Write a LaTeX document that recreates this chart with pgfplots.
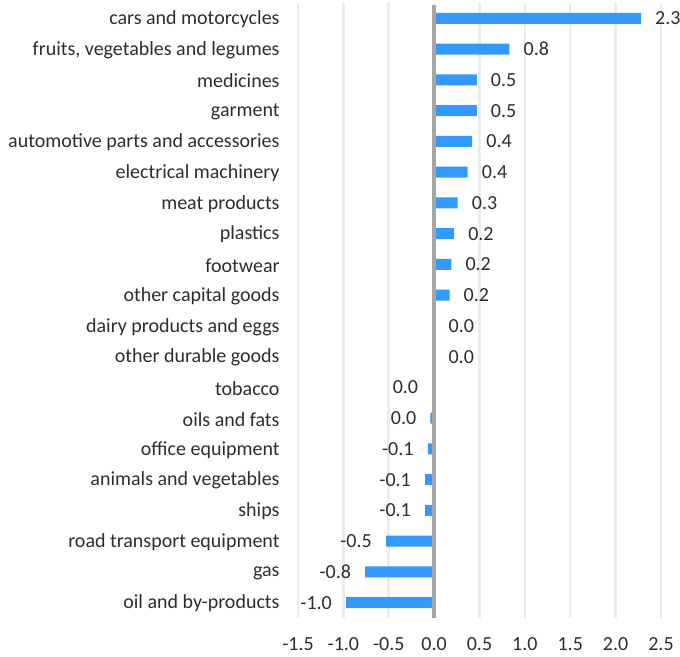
\documentclass[border=0pt]{standalone}
\usepackage{pgfplots}
\pgfplotsset{compat=1.18}
\usepackage{pgfplotstable}
\usepackage{fontspec}
\setmainfont{Carlito}
\definecolor{barblue}{RGB}{51,153,255}
\definecolor{txt}{RGB}{45,45,45}
\definecolor{gridc}{RGB}{236,236,236}
\definecolor{zeroc}{RGB}{166,166,166}

\pgfplotstableread{
y x label
0 2.28 2.3
1 0.83 0.8
2 0.47 0.5
3 0.47 0.5
4 0.42 0.4
5 0.37 0.4
6 0.26 0.3
7 0.22 0.2
8 0.19 0.2
9 0.17 0.2
10 0.004 0.0
11 0.003 0.0
}\posdata
\pgfplotstableread{
y x label
12 -0.02 0.0
13 -0.04 0.0
14 -0.07 -0.1
15 -0.10 -0.1
16 -0.10 -0.1
17 -0.53 -0.5
18 -0.76 -0.8
19 -0.97 -1.0
}\negdata

\begin{document}
\begin{tikzpicture}
\begin{axis}[
  at={(0,0)}, anchor=south west,
  scale only axis, width=363bp, height=615bp,
  xbar, bar width=11bp, bar shift=0pt,
  xmin=-1.5, xmax=2.5, ymin=-0.5, ymax=19.5, y dir=reverse,
  axis line style={draw=none},
  major tick style={draw=none},
  xtick={-1.5,-1,-0.5,0,0.5,1,1.5,2,2.5},
  xticklabels={-1.5,-1.0,-0.5,0.0,0.5,1.0,1.5,2.0,2.5},
  ytick={0,...,19},
  yticklabels={cars and motorcycles,{fruits, vegetables and legumes\ },medicines,garment,automotive parts and accessories,electrical machinery,meat products\ ,plastics,footwear,other capital goods,dairy products and eggs,other durable goods,tobacco\ ,oils and fats,office equipment,animals and vegetables,ships,road transport equipment,gas,oil and by-products},
  xmajorgrids, grid style={gridc, line width=2.5bp},
  font=\fontsize{20bp}{24bp}\selectfont,
  ticklabel style={text=txt, font=\fontsize{20bp}{24bp}\selectfont},
  yticklabel style={inner sep=0pt, xshift=-14bp, yshift=-1bp},
  xticklabel style={inner sep=0pt, yshift=-19bp},
  point meta=explicit symbolic,
  nodes near coords,
  clip=false,
]
\addplot[fill=barblue, draw=none,
  every node near coord/.append style={anchor=west, inner sep=0pt, xshift=14bp, text=txt, font=\fontsize{20bp}{24bp}\selectfont}]
  table[x=x, y=y, meta=label] {\posdata};
\addplot[fill=barblue, draw=none,
  every node near coord/.append style={anchor=east, inner sep=0pt, xshift=-14bp, text=txt, font=\fontsize{20bp}{24bp}\selectfont}]
  table[x=x, y=y, meta=label] {\negdata};
\draw[zeroc, line width=4bp] (axis cs:0,-0.43) -- (axis cs:0,19.5);
\end{axis}
\pgfresetboundingbox
\path[use as bounding box] (-298bp,-39bp) rectangle (382bp,618bp);
\end{tikzpicture}
\end{document}
